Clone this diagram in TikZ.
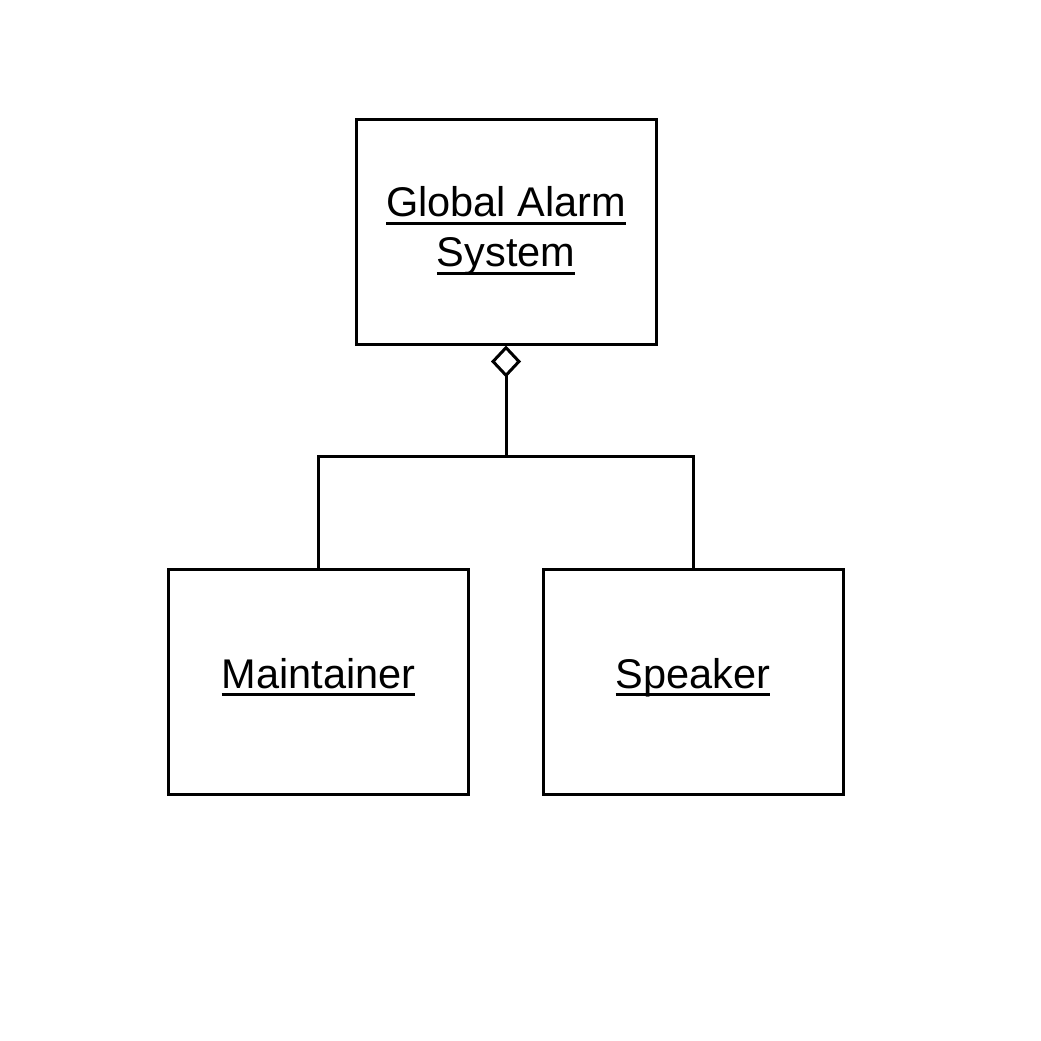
\documentclass[tikz,border=0pt]{standalone}
\usepackage{fontspec}
\setmainfont{Liberation Sans}
\usetikzlibrary{arrows.meta}
\newcommand\myul[1]{{\setbox0\hbox{#1}\rlap{\rule[-8pt]{\wd0}{3pt}}\box0}}
\tikzset{
  box/.style={draw, line width=3pt, minimum width=300pt, minimum height=225pt, inner sep=0pt},
  lbl/.style={font=\fontsize{41.5}{50}\selectfont, align=center, inner sep=0pt},
  conn/.style={line width=3pt}
}
\begin{document}
\begin{tikzpicture}[x=1pt,y=-1pt]
\useasboundingbox (0,0) rectangle (1041,1041);
\node[box] (gas) at (506,231.5) {};
\node[box] (maint) at (318.5,681.5) {};
\node[box] (spk) at (693,681.5) {};
\node[lbl] (gasl) at (506,231) {\myul{Global Alarm}\\\myul{System}};
\node[lbl, anchor=base] (maintl) at (318.5,688) {\myul{Maintainer}};
\node[lbl, anchor=base] (spkl) at (693,688) {\myul{Speaker}};
\coordinate (j) at (506,456);
\draw[conn, {Diamond[open, length=32pt, width=30pt, line width=3pt]}-] (gas.south) -- (j);
\draw[conn] (maint.north) |- (j) -| (spk.north);
\end{tikzpicture}
\end{document}
